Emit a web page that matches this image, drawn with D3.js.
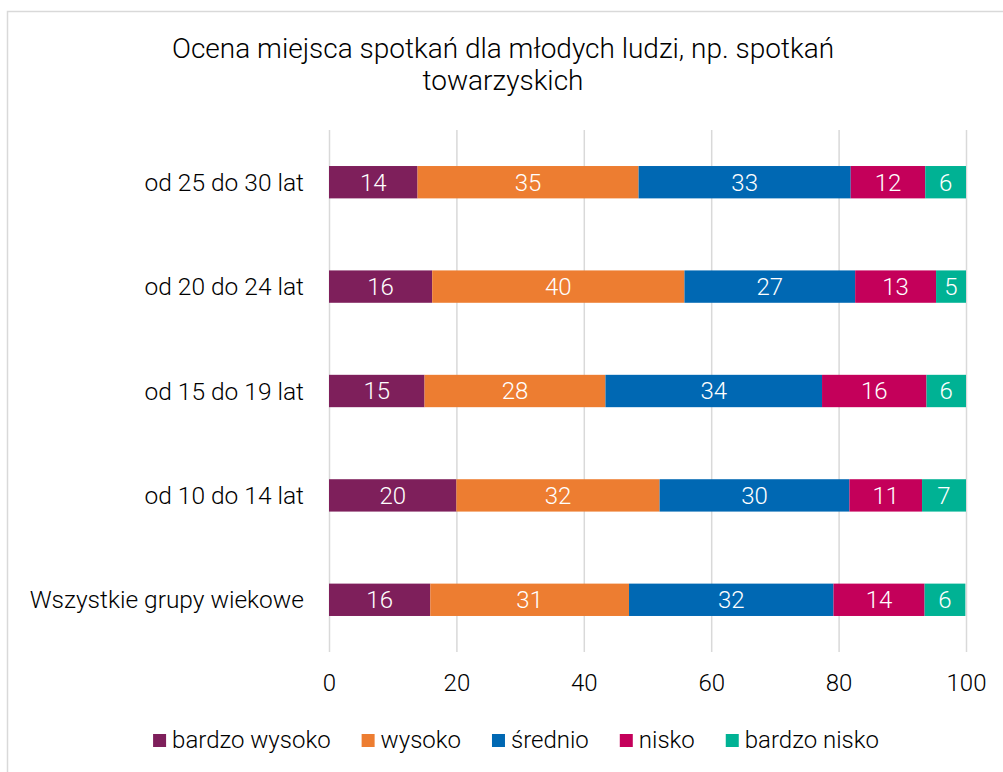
<!DOCTYPE html>
<meta charset="utf-8">
<head>
<style>
  body { margin: 0; background: #fff; }
  svg text { font-family: "Roboto", "DejaVu Sans Condensed", sans-serif; font-weight: 300; }
</style>
</head>
<script src="https://d3js.org/d3.v7.min.js"></script>

<div id="chart"></div>

<script>
// categories, top to bottom
var groups = ['od 25 do 30 lat', 'od 20 do 24 lat', 'od 15 do 19 lat', 'od 10 do 14 lat', 'Wszystkie grupy wiekowe'];
var series = ['bardzo wysoko', 'wysoko', 'średnio', 'nisko', 'bardzo nisko'];
// values per series, in the order of groups
var bardzoWysoko = [13.9, 16.2, 15.0, 20.0, 15.9];
var wysoko       = [34.7, 39.6, 28.4, 31.9, 31.2];
var srednio      = [33.3, 26.8, 34.0, 29.8, 32.1];
var nisko        = [11.7, 12.7, 16.4, 11.4, 14.3];
var bardzoNisko  = [6.4, 4.7, 6.2, 6.9, 6.4];
var xTicks = [0, 20, 40, 60, 80, 100];

var colors = d3.scaleOrdinal()
    .domain(series)
    .range(['#7e1f5b', '#ed7d31', '#0068b3', '#c4005a', '#00b294']);

var width = 1003,
    height = 772,
    margin = {top: 130, right: 37, bottom: 120, left: 329};

// build rows for d3.stack
var allVals = [bardzoWysoko, wysoko, srednio, nisko, bardzoNisko];
var rows = groups.map(function(g, i) {
    var r = {group: g};
    series.forEach(function(s, j) { r[s] = allVals[j][i]; });
    return r;
});
var stacked = d3.stack().keys(series)(rows);

var svg = d3.select('#chart').append('svg')
    .attr('width', width)
    .attr('height', height);

// frame
svg.append('rect')
    .attr('x', 7.5).attr('y', 11.5)
    .attr('width', width).attr('height', height)
    .attr('fill', 'none')
    .attr('stroke', '#d9d9d9')
    .attr('stroke-width', 1.5);

var x = d3.scaleLinear()
    .domain([0, 100])
    .range([margin.left, width - margin.right]);

var y = d3.scaleBand()
    .domain(groups)
    .range([margin.top, height - margin.bottom])
    .paddingInner(0.69)
    .paddingOuter(0.345);

// title
svg.append('text')
    .attr('x', 503).attr('y', 58)
    .attr('text-anchor', 'middle')
    .attr('font-size', 28)
    .attr('fill', '#000')
    .text('Ocena miejsca spotkań dla młodych ludzi, np. spotkań');
svg.append('text')
    .attr('x', 503).attr('y', 90)
    .attr('text-anchor', 'middle')
    .attr('font-size', 28)
    .attr('fill', '#000')
    .text('towarzyskich');

// vertical gridlines
var xAxis = svg.append('g')
    .attr('transform', 'translate(0,' + (height - margin.bottom) + ')')
    .call(d3.axisBottom(x).tickValues(xTicks).tickSize(-(height - margin.bottom - margin.top)).tickPadding(22));
xAxis.select('.domain').remove();
xAxis.selectAll('.tick line').attr('stroke', '#d9d9d9').attr('stroke-width', 1.5);
xAxis.selectAll('.tick text')
    .attr('font-size', 24)
    .attr('fill', '#000')
    .attr('font-family', null);

// category labels
svg.append('g').selectAll('text')
    .data(groups)
    .enter().append('text')
    .attr('x', 304)
    .attr('y', d => y(d) + y.bandwidth() / 2)
    .attr('dy', '0.35em')
    .attr('text-anchor', 'end')
    .attr('font-size', 24.5)
    .attr('fill', '#000')
    .text(d => d);

// bars
var layer = svg.append('g').selectAll('g')
    .data(stacked)
    .enter().append('g')
    .attr('fill', d => colors(d.key));

layer.selectAll('rect')
    .data(d => d)
    .enter().append('rect')
    .attr('x', d => x(d[0]))
    .attr('y', d => y(d.data.group))
    .attr('width', d => x(d[1]) - x(d[0]))
    .attr('height', y.bandwidth());

// value labels
layer.selectAll('text')
    .data(d => d)
    .enter().append('text')
    .attr('x', d => (x(d[0]) + x(d[1])) / 2)
    .attr('y', d => y(d.data.group) + y.bandwidth() / 2)
    .attr('dy', '0.35em')
    .attr('text-anchor', 'middle')
    .attr('font-size', 24)
    .attr('fill', '#fff')
    .text(d => Math.round(d[1] - d[0]));

// legend
var legend = svg.append('g');
var lx = 0;
var items = legend.selectAll('g')
    .data(series)
    .enter().append('g');
items.append('rect')
    .attr('y', -6).attr('width', 13).attr('height', 13)
    .attr('fill', d => colors(d));
items.append('text')
    .attr('x', 19)
    .attr('dy', '0.35em')
    .attr('font-size', 24)
    .attr('fill', '#000')
    .text(d => d);
items.each(function() {
    d3.select(this).attr('transform', 'translate(' + lx + ',0)');
    lx += this.getBBox().width + 31;
});
legend.attr('transform', 'translate(' + (516 - (lx - 31) / 2) + ',740)');
</script>
